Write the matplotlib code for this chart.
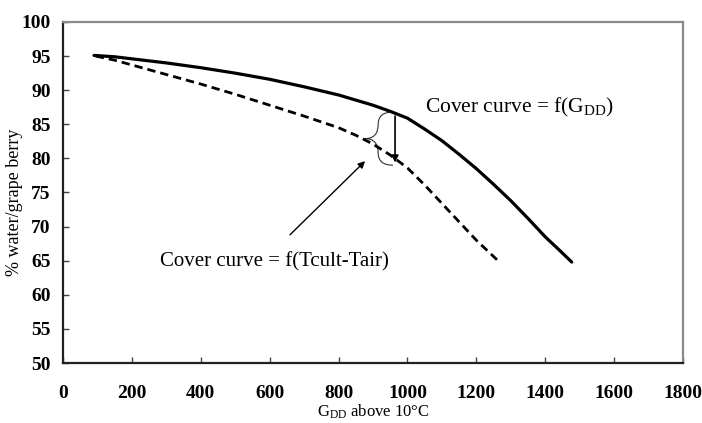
import matplotlib
matplotlib.use("Agg")
import matplotlib.pyplot as plt
from matplotlib.path import Path
from matplotlib.patches import PathPatch

plt.rcParams["font.family"] = ["Liberation Serif", "DejaVu Serif"]
plt.rcParams["mathtext.fontset"] = "custom"
plt.rcParams["mathtext.rm"] = "Liberation Serif"
plt.rcParams["mathtext.it"] = "Liberation Serif:italic"

# cover curve as a function of growing degree days
gdd_solid = [90, 150, 200, 300, 400, 500, 600, 700, 800, 900, 950, 1000,
             1050, 1100, 1150, 1200, 1250, 1300, 1350, 1400, 1440, 1477]
water_solid = [95.1, 94.9, 94.6, 94.0, 93.3, 92.5, 91.6, 90.5, 89.3, 87.8, 86.9, 85.9,
               84.3, 82.6, 80.6, 78.5, 76.2, 73.8, 71.2, 68.5, 66.6, 64.8]

# cover curve as a function of Tcult - Tair
gdd_dashed = [95, 150, 200, 300, 400, 500, 600, 700, 800, 850, 900, 950,
              1000, 1050, 1100, 1150, 1200, 1265]
water_dashed = [95.0, 94.4, 93.7, 92.3, 90.9, 89.4, 87.8, 86.2, 84.5, 83.4, 82.1, 80.5,
                78.6, 76.1, 73.4, 70.7, 68.0, 64.9]

x_ticks = list(range(0, 1801, 200))
y_ticks = list(range(50, 101, 5))

fig = plt.figure(figsize=(7.02, 4.23), dpi=100)
ax = fig.add_axes([63 / 702, 60 / 423, 620 / 702, 341 / 423])

ax.plot(gdd_solid, water_solid, color="black", lw=2.3,
        solid_capstyle="round", solid_joinstyle="round")
ax.plot(gdd_dashed, water_dashed, color="black", lw=2.0, dashes=(3, 1.8))

ax.set_xlim(0, 1800)
ax.set_ylim(50, 100)
ax.set_xticks(x_ticks)
ax.set_yticks(y_ticks)
ax.tick_params(direction="in", length=4, width=1, colors="#444444",
               labelcolor="black", labelsize=14)
ax.tick_params(axis="x", pad=16)
ax.tick_params(axis="y", pad=9)
for lab in ax.get_xticklabels() + ax.get_yticklabels():
    lab.set_fontweight("bold")

for side in ["top", "right"]:
    ax.spines[side].set_color("#8a8a8a")
    ax.spines[side].set_linewidth(1.6)
for side in ["left", "bottom"]:
    ax.spines[side].set_color("#222222")
    ax.spines[side].set_linewidth(1.6)

ax.set_xlabel(r"G$_{\mathrm{DD}}$ above 10°C", fontsize=12, labelpad=0)
ax.set_ylabel("% water/grape berry", fontsize=13)
ax.yaxis.set_label_coords(-0.064, 0.47)

# curly brace between the two curves
verts = [(958, 86.8), (915, 86.8), (915, 85.0), (915, 82.9), (877, 82.9),
         (915, 82.9), (915, 80.8), (915, 79.0), (958, 79.0)]
codes = [Path.MOVETO, Path.CURVE3, Path.CURVE3, Path.CURVE3, Path.CURVE3,
         Path.CURVE3, Path.CURVE3, Path.CURVE3, Path.CURVE3]
ax.add_patch(PathPatch(Path(verts, codes), fill=False, lw=0.8, edgecolor="#333333"))

# arrows
ax.annotate("", xy=(964, 79.4), xytext=(964, 86.2),
            arrowprops=dict(arrowstyle="-|>", color="black", lw=1.2,
                            mutation_scale=10, shrinkA=0, shrinkB=0))
ax.annotate("", xy=(877, 79.6), xytext=(659, 68.8),
            arrowprops=dict(arrowstyle="-|>", color="black", lw=1.0,
                            mutation_scale=10, shrinkA=0, shrinkB=0))

ax.text(1051, 87.4, r"Cover curve = f(G$_{\mathrm{DD}}$)", fontsize=15.5,
        ha="left", va="center")
ax.text(282, 64.8, "Cover curve = f(Tcult-Tair)", fontsize=15,
        ha="left", va="center")

fig.savefig("out.png", dpi=100, facecolor="white")
